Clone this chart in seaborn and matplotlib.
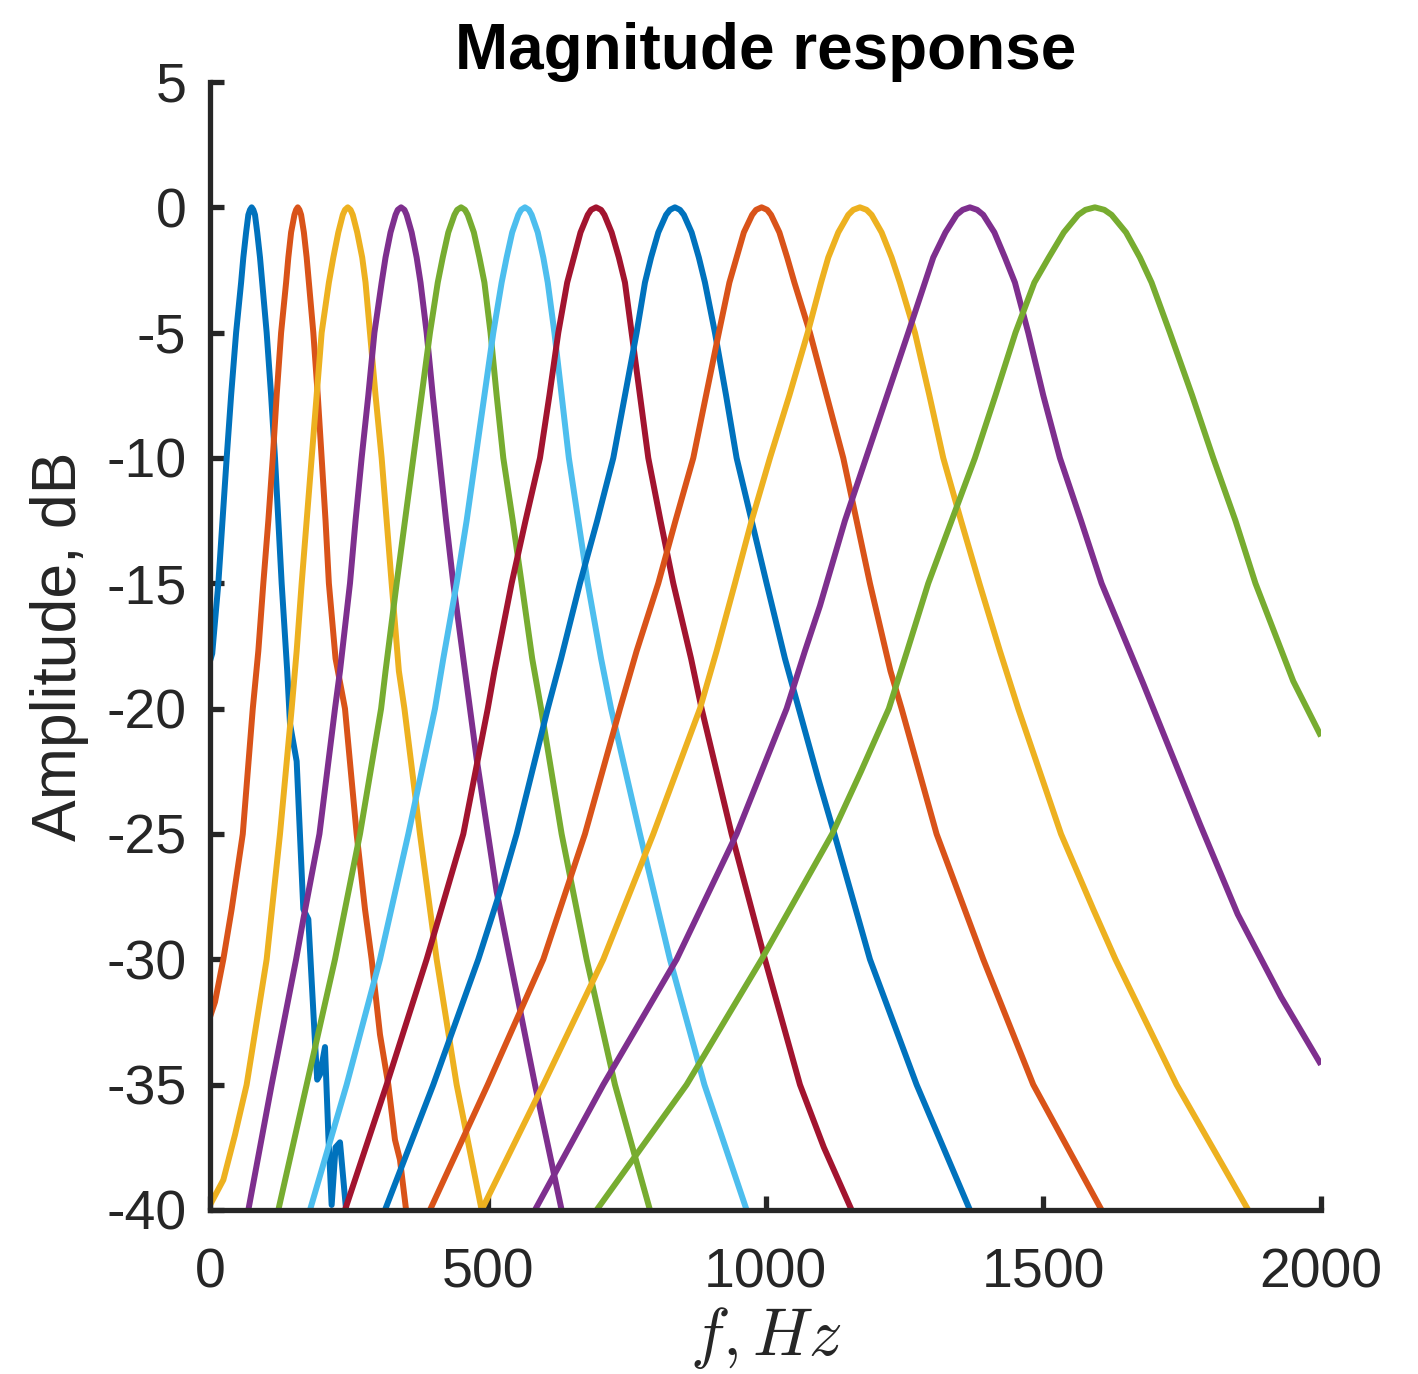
import numpy as np
import pandas as pd
import matplotlib
matplotlib.use("Agg")
import matplotlib.pyplot as plt
import seaborn as sns

# ---- data (frequency in Hz, amplitude in dB) ----
F1 = [0, 4, 15, 30, 38, 47, 56, 60, 65, 69, 72, 75, 78, 81, 85, 90, 94, 102, 110, 117, 123, 129, 139, 144, 156, 168, 177, 189, 193, 198, 207, 213, 219, 226, 234, 245]
A1 = [-18.1, -17.8, -15, -10, -7.5, -5, -3, -2, -1, -0.3, -0.1, 0, -0.1, -0.3, -1, -2, -3, -5, -7.5, -10, -12.5, -15, -18.5, -20.6, -22.1, -28.0, -28.4, -33.3, -34.8, -34.6, -33.5, -37, -39.8, -37.5, -37.3, -40]

F2 = [0, 9, 24, 39, 59, 68, 77, 87, 96, 105, 113, 120, 128, 137, 141, 146, 152, 155, 158, 161, 164, 169, 174, 178, 186, 194, 201, 208, 214, 226, 243, 264, 279, 291, 306, 321, 333, 342, 353]
A2 = [-32.3, -31.7, -30, -28, -25, -22.5, -20, -17.7, -15, -12.5, -10, -7.5, -5, -3, -2, -1, -0.3, -0.1, 0, -0.1, -0.3, -1, -2, -3, -5, -7.5, -10, -12.5, -15, -18, -20, -25, -28, -30, -33, -35, -37.2, -38, -40]

F3 = [0, 24, 45, 66, 102, 126, 147, 156, 165, 174, 183, 192, 201, 214, 222, 231, 239, 243, 248, 253, 257, 265, 274, 280, 288, 298, 309, 318, 327, 340, 350, 378, 408, 444, 489]
A3 = [-39.8, -38.8, -37, -35, -30, -25, -20, -17.7, -15, -12.5, -10, -7.5, -5, -3, -2, -1, -0.3, -0.1, 0, -0.1, -0.3, -1, -2, -3, -5, -7.5, -10, -12.5, -15, -18.5, -20, -25, -30, -35, -40]

F4 = [69, 111, 155, 168, 197, 225, 234, 252, 262, 273, 285, 296, 309, 316, 325, 334, 338, 344, 350, 354, 363, 372, 379, 390, 401, 413, 425, 438, 459, 480, 516, 540, 585, 633]
A4 = [-40, -35, -30, -28.4, -25, -20, -18.5, -15, -12.5, -10, -7.5, -5, -3, -2, -1, -0.3, -0.1, 0, -0.1, -0.3, -1, -2, -3, -5, -7.5, -10, -12.5, -15, -18.5, -22, -27.3, -30, -35, -40]

F5 = [123, 174, 225, 270, 308, 316, 336, 351, 366, 381, 396, 410, 419, 429, 440, 445, 452, 459, 464, 475, 485, 494, 505, 516, 528, 545, 561, 580, 596, 633, 678, 729, 792]
A5 = [-40, -35, -30, -25, -20, -18.5, -15, -12.5, -10, -7.5, -5, -3, -2, -1, -0.3, -0.1, 0, -0.1, -0.3, -1, -2, -3, -5, -7.5, -10, -12.5, -15, -18, -20, -25, -30, -35, -40]

F6 = [180, 246, 306, 357, 405, 420, 444, 462, 478, 494, 510, 525, 534, 544, 555, 560, 567, 574, 579, 590, 600, 608, 620, 633, 646, 663, 680, 704, 722, 774, 828, 890, 966]
A6 = [-40, -35, -30, -25, -20, -18, -15, -12.5, -10, -7.5, -5, -3, -2, -1, -0.3, -0.1, 0, -0.1, -0.3, -1, -2, -3, -5, -7.5, -10, -12.5, -15, -18, -20, -25, -30, -35, -40]

F7 = [243, 318, 390, 456, 500, 512, 543, 568, 594, 611, 627, 643, 655, 667, 680, 686, 695, 704, 710, 723, 736, 747, 759, 774, 789, 811, 834, 866, 885, 939, 999, 1062, 1105, 1155]
A7 = [-40, -35, -30, -25, -20, -18.5, -15, -12.5, -10, -7.5, -5, -3, -2, -1, -0.3, -0.1, 0, -0.1, -0.3, -1, -2, -3, -5, -7.5, -10, -12.5, -15, -18, -20, -25, -30, -35, -37.5, -40]

F8 = [315, 402, 483, 522, 552, 608, 632, 666, 697, 726, 747, 768, 783, 794, 807, 821, 828, 837, 846, 853, 867, 880, 891, 909, 929, 948, 975, 1002, 1035, 1095, 1124, 1188, 1272, 1368]
A8 = [-40, -35, -30, -27.3, -25, -20, -18, -15, -12.5, -10, -7.5, -5, -3, -2, -1, -0.3, -0.1, 0, -0.1, -0.3, -1, -2, -3, -5, -7.5, -10, -12.5, -15, -18, -22.8, -25, -30, -35, -40]

F9 = [396, 500, 600, 675, 738, 768, 807, 838, 870, 893, 916, 935, 948, 961, 976, 983, 993, 1003, 1010, 1025, 1039, 1052, 1080, 1110, 1140, 1164, 1188, 1225, 1245, 1308, 1392, 1482, 1605]
A9 = [-40, -35, -30, -25, -20, -17.7, -15, -12.5, -10, -7.5, -5, -3, -2, -1, -0.3, -0.1, 0, -0.1, -0.3, -1, -2, -3, -5, -7.5, -10, -12.5, -15, -18.5, -20, -25, -30, -35, -40]

F10 = [489, 600, 708, 798, 882, 912, 945, 975, 1008, 1043, 1076, 1100, 1113, 1131, 1149, 1158, 1170, 1182, 1191, 1209, 1227, 1242, 1269, 1295, 1320, 1352, 1385, 1422, 1455, 1532, 1590, 1630, 1740, 1869]
A10 = [-40, -35, -30, -25, -20, -17.7, -15, -12.5, -10, -7.5, -5, -3, -2, -1, -0.3, -0.1, 0, -0.1, -0.3, -1, -2, -3, -5, -7.5, -10, -12.5, -15, -17.7, -20, -25, -28, -30, -35, -40]

F11 = [585, 708, 840, 948, 1038, 1071, 1098, 1143, 1181, 1219, 1257, 1287, 1302, 1324, 1344, 1355, 1368, 1381, 1392, 1412, 1431, 1449, 1473, 1500, 1530, 1568, 1605, 1680, 1782, 1850, 1928, 2000]
A11 = [-40, -35, -30, -25, -20, -17.7, -15.9, -12.5, -10, -7.5, -5, -3, -2, -1, -0.3, -0.1, 0, -0.1, -0.3, -1, -2, -3, -5, -7.5, -10, -12.5, -15, -19, -24.6, -28.2, -31.5, -34.2]

F12 = [696, 858, 993, 1120, 1172, 1222, 1255, 1293, 1335, 1377, 1414, 1450, 1484, 1510, 1537, 1563, 1576, 1593, 1610, 1623, 1649, 1674, 1695, 1728, 1768, 1806, 1846, 1882, 1950, 2000]
A12 = [-40, -35, -30, -25, -22.5, -20, -17.7, -15, -12.5, -10, -7.5, -5, -3, -2, -1, -0.3, -0.1, 0, -0.1, -0.3, -1, -2, -3, -5, -7.5, -10, -12.5, -15, -18.9, -21.1]

FREQS = [F1, F2, F3, F4, F5, F6, F7, F8, F9, F10, F11, F12]
AMPS = [A1, A2, A3, A4, A5, A6, A7, A8, A9, A10, A11, A12]
FILTERS = [f"ch{i+1}" for i in range(12)]

COLORS = ['#0072BD', '#D95319', '#EDB120', '#7E2F8E', '#77AC30', '#4DBEEE',
          '#A2142F', '#0072BD', '#D95319', '#EDB120', '#7E2F8E', '#77AC30']

XTICKS = [0, 500, 1000, 1500, 2000]
YTICKS = [5, 0, -5, -10, -15, -20, -25, -30, -35, -40]

TITLE = "Magnitude response"
XLABEL = r"$f, Hz$"
YLABEL = "Amplitude, dB"

# ---- build long table ----
rows = []
for name, fs, amps in zip(FILTERS, FREQS, AMPS):
    for f, a in zip(fs, amps):
        rows.append((name, f, a))
df = pd.DataFrame(rows, columns=["filter", "f", "dB"])

sns.set_theme(style="ticks")
plt.rcParams["font.family"] = ["Liberation Sans", "DejaVu Sans"]
plt.rcParams["mathtext.fontset"] = "cm"
plt.rcParams["axes.unicode_minus"] = False

W, H = 1418, 1374
fig = plt.figure(figsize=(W / 100, H / 100), dpi=100)
ax = fig.add_axes([210 / W, (H - 1210) / H, 1111 / W, (1210 - 82) / H])

sns.lineplot(data=df, x="f", y="dB", hue="filter", palette=dict(zip(FILTERS, COLORS)),
             estimator=None, sort=False, legend=False, linewidth=4.3, ax=ax)
for ln in ax.get_lines():
    ln.set_solid_joinstyle("round")
    ln.set_solid_capstyle("butt")

ax.set_xlim(0, 2000)
ax.set_ylim(-40, 5)
ax.set_xticks(XTICKS)
ax.set_yticks(YTICKS)

dark = "#262626"
for s in ["top", "right"]:
    ax.spines[s].set_visible(False)
for s in ["left", "bottom"]:
    ax.spines[s].set_linewidth(3.8)
    ax.spines[s].set_color(dark)
    ax.spines[s].set_zorder(5)
    ax.spines[s].set_capstyle("projecting")

ax.tick_params(axis="both", direction="in", length=10, width=3.8, color=dark,
               labelcolor=dark, labelsize=40)
ax.tick_params(axis="x", pad=27)
ax.tick_params(axis="y", pad=17)

ax.set_xlabel(XLABEL, fontsize=48, color=dark, labelpad=4)
ax.set_ylabel(YLABEL, fontsize=45, color=dark, labelpad=12)
ax.set_title(TITLE, fontsize=46, fontweight="bold", color="black", pad=7)

fig.savefig("out.png", dpi=100, facecolor="white")
